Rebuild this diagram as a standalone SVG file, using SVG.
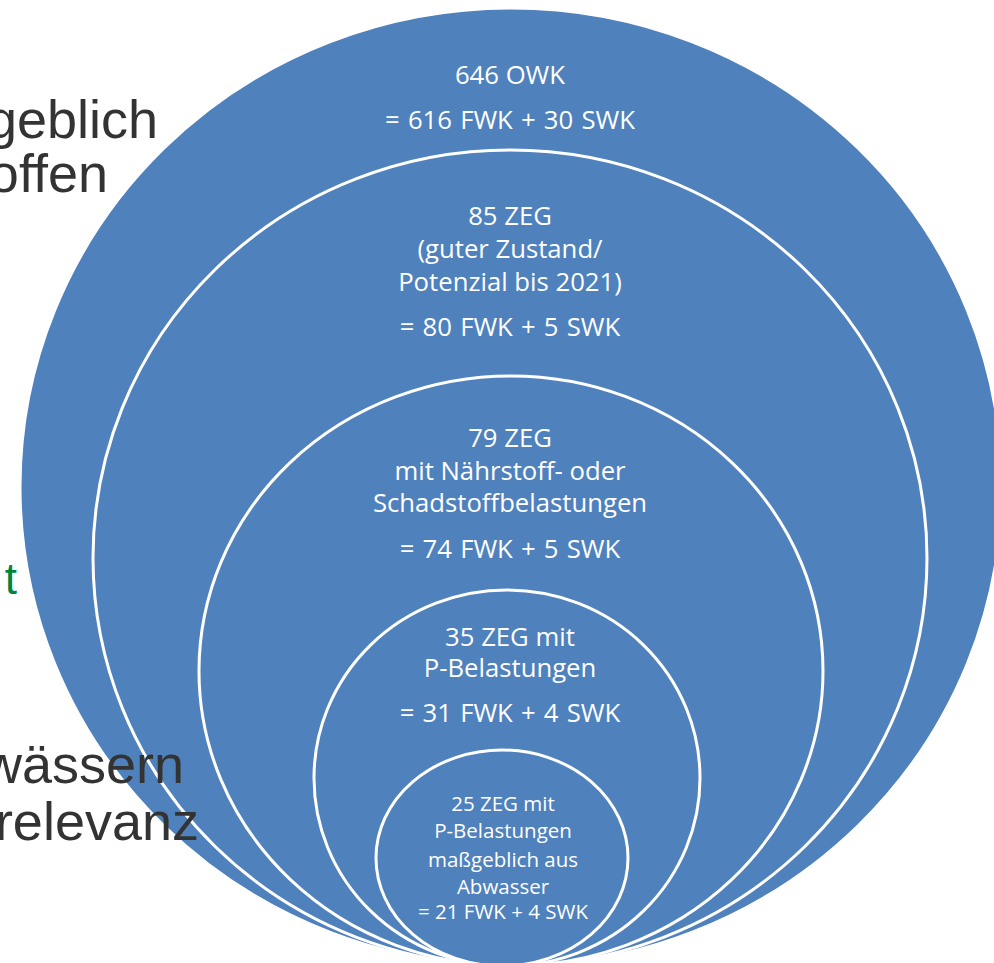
<svg xmlns="http://www.w3.org/2000/svg" width="994" height="963" viewBox="0 0 994 963">
<style>
.bg{font-family:"Liberation Sans",Arial,sans-serif;font-size:54px;fill:#333333}
.gr{font-family:"Liberation Sans",Arial,sans-serif;font-size:44px;fill:#00843D}
.c{fill:#4F81BD;stroke:#FFFFFF;stroke-width:3}
.t{font-family:"Open Sans","Liberation Sans",sans-serif;font-size:25.7px;fill:#FFFFFF;text-anchor:middle}
.e{font-family:"Open Sans","Liberation Sans",sans-serif;font-size:25.7px;fill:#FFFFFF;text-anchor:middle;word-spacing:1.5px}
.s{font-family:"Open Sans","Liberation Sans",sans-serif;font-size:20.5px;fill:#FFFFFF;text-anchor:middle}
</style>
<rect width="994" height="963" fill="#FFFFFF"/>
<g id="owk">
<ellipse class="c" cx="511" cy="487" rx="491" ry="479"/>
<text class="t" x="510" y="84">646 OWK</text>
<text class="e" x="510" y="129">= 616 FWK + 30 SWK</text>
</g>
<g id="zeg85">
<ellipse class="c" cx="510" cy="558" rx="417" ry="408"/>
<text class="t" x="510" y="225">85 ZEG</text>
<text class="t" x="510" y="258">(guter Zustand/</text>
<text class="t" x="510" y="291">Potenzial bis 2021)</text>
<text class="e" x="510" y="336">= 80 FWK + 5 SWK</text>
</g>
<g id="zeg79">
<ellipse class="c" cx="511" cy="671" rx="312" ry="295"/>
<text class="t" x="510" y="447">79 ZEG</text>
<text class="t" x="510" y="480">mit Nährstoff- oder</text>
<text class="t" x="510" y="512">Schadstoffbelastungen</text>
<text class="e" x="510" y="558">= 74 FWK + 5 SWK</text>
</g>
<g id="zeg35">
<ellipse class="c" cx="507" cy="778" rx="193" ry="188"/>
<text class="t" x="510" y="646">35 ZEG mit</text>
<text class="t" x="510" y="677">P-Belastungen</text>
<text class="e" x="510" y="722">= 31 FWK + 4 SWK</text>
</g>
<g id="zeg25">
<ellipse class="c" cx="502" cy="858" rx="126" ry="108"/>
<text class="s" x="503" y="811">25 ZEG mit</text>
<text class="s" x="503" y="838">P-Belastungen</text>
<text class="s" x="503" y="867">maßgeblich aus</text>
<text class="s" x="503" y="894">Abwasser</text>
<text class="s" x="503" y="919">= 21 FWK + 4 SWK</text>
</g>
<g id="left-text">
<text class="bg" x="158" y="138" text-anchor="end">geblich</text>
<text class="bg" x="108" y="192" text-anchor="end">offen</text>
<text class="gr" x="17" y="594" text-anchor="end">t</text>
<text class="bg" x="184" y="783" text-anchor="end">wässern</text>
<text class="bg" x="199" y="840" text-anchor="end">relevanz</text>
</g>
</svg>
